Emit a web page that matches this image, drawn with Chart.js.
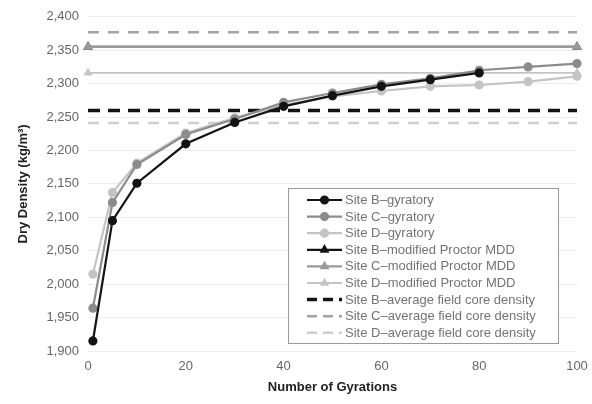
<!DOCTYPE html>
<html>
<head>
<meta charset="utf-8">
<script src="https://cdn.jsdelivr.net/npm/chart.js@4"></script>
<style>
  html, body { margin: 0; padding: 0; background: #fff; }
  #wrap { width: 592px; height: 404px; position: relative; }
</style>
</head>
<body>
<div id="wrap"><canvas id="densityChart"></canvas></div>
<script>
// gyratory compaction curves
const gyrations = [1, 5, 10, 20, 30, 40, 50, 60, 70, 80, 90, 100];
const siteB = [1915, 2095, 2151, 2210, 2242, 2266, 2282, 2296, 2306, 2316];
const siteC = [1964, 2122, 2179, 2224, 2247, 2272, 2286, 2299, 2308, 2320, 2325, 2330];
const siteD = [2015, 2137, 2181, 2226, 2249, 2268, 2281, 2289, 2296, 2298, 2303, 2311];

// reference densities, drawn across the whole x range
const refRange = [0, 100];
const mddB = 2355, mddC = 2355, mddD = 2316;
const fieldB = 2260, fieldC = 2377, fieldD = 2241;

const yTicks = { min: 1900, max: 2400, step: 50 };
const xTicks = { min: 0, max: 100, step: 20 };

const FONT = "'Liberation Sans', Arial, sans-serif";
const BLACK = '#141414', MID = '#8c8c8c', LIGHT = '#c4c4c4';

const curve = (vals) => vals.map((v, i) => ({ x: gyrations[i], y: v }));
const flat = (v) => refRange.map(x => ({ x: x, y: v }));

const datasets = [
    { label: 'Site B\u2013gyratory', data: curve(siteB), borderColor: BLACK, backgroundColor: BLACK,
      borderWidth: 2.2, pointRadius: 3.5, pointStyle: 'circle' },
    { label: 'Site C\u2013gyratory', data: curve(siteC), borderColor: MID, backgroundColor: MID,
      borderWidth: 2.2, pointRadius: 3.5, pointStyle: 'circle' },
    { label: 'Site D\u2013gyratory', data: curve(siteD), borderColor: LIGHT, backgroundColor: LIGHT,
      borderWidth: 2.2, pointRadius: 3.5, pointStyle: 'circle' },
    { label: 'Site B\u2013modified Proctor MDD', data: flat(mddB), borderColor: BLACK, backgroundColor: BLACK,
      borderWidth: 2.2, pointRadius: 3.5, pointStyle: 'triangle', order: 1 },
    { label: 'Site C\u2013modified Proctor MDD', data: flat(mddC), borderColor: '#9a9a9a', backgroundColor: '#9a9a9a',
      borderWidth: 2.2, pointRadius: 3.5, pointStyle: 'triangle' },
    { label: 'Site D\u2013modified Proctor MDD', data: flat(mddD), borderColor: LIGHT, backgroundColor: LIGHT,
      borderWidth: 1.8, pointRadius: 3.5, pointStyle: 'triangle' },
    { label: 'Site B\u2013average field core density', data: flat(fieldB), borderColor: BLACK,
      borderWidth: 3.5, borderDash: [12, 8], pointRadius: 0 },
    { label: 'Site C\u2013average field core density', data: flat(fieldC), borderColor: '#a3a3a3',
      borderWidth: 2.5, borderDash: [11, 9], pointRadius: 0 },
    { label: 'Site D\u2013average field core density', data: flat(fieldD), borderColor: '#cfcfcf',
      borderWidth: 2.5, borderDash: [11, 9], pointRadius: 0 }
];
datasets.forEach(ds => { ds.clip = false; ds.tension = 0; });

// boxed legend sitting inside the plot, bottom right
const boxLegend = {
    id: 'boxLegend',
    afterDraw(chart) {
        const ctx = chart.ctx;
        const box = { x: 288.5, y: 188.5, w: 270, h: 155 };
        const rowH = 16.6;
        ctx.save();
        ctx.fillStyle = '#fff';
        ctx.fillRect(box.x, box.y, box.w, box.h);
        ctx.strokeStyle = '#9a9a9a';
        ctx.lineWidth = 1;
        ctx.strokeRect(box.x, box.y, box.w, box.h);
        chart.data.datasets.forEach((ds, i) => {
            const y = 200 + i * rowH;
            const x0 = 307, x1 = 342;
            ctx.strokeStyle = ds.borderColor;
            ctx.lineWidth = ds.borderWidth;
            ctx.setLineDash(ds.borderDash ? [10, 6] : []);
            ctx.beginPath();
            ctx.moveTo(x0, y);
            ctx.lineTo(x1, y);
            ctx.stroke();
            ctx.setLineDash([]);
            if (ds.pointRadius) {
                ctx.fillStyle = ds.backgroundColor;
                ctx.strokeStyle = ds.borderColor;
                Chart.helpers.drawPoint(ctx, { pointStyle: ds.pointStyle, radius: 3.5, borderWidth: 1 },
                    (x0 + x1) / 2, y);
            }
            ctx.fillStyle = '#747474';
            ctx.font = '13px ' + FONT;
            ctx.textBaseline = 'middle';
            ctx.textAlign = 'left';
            ctx.fillText(ds.label, 345, y + 0.5);
        });
        ctx.restore();
    }
};

new Chart(document.getElementById('densityChart'), {
    type: 'line',
    data: { datasets: datasets },
    plugins: [boxLegend],
    options: {
        responsive: true,
        maintainAspectRatio: false,
        animation: false,
        layout: { padding: { left: 12, right: 15, top: 11, bottom: 5 } },
        plugins: { legend: { display: false }, tooltip: { enabled: false } },
        scales: {
            x: {
                type: 'linear',
                min: xTicks.min,
                max: xTicks.max,
                grid: { display: false },
                border: { display: false },
                ticks: { stepSize: xTicks.step, color: '#666', font: { family: FONT, size: 13 }, padding: 0 },
                title: { display: true, text: 'Number of Gyrations', color: '#222',
                         font: { family: FONT, size: 13, weight: 'bold' }, padding: { top: 8 } },
                afterFit(scale) { scale.height = 48; }
            },
            y: {
                min: yTicks.min,
                max: yTicks.max,
                grid: { color: '#ececec', drawTicks: false },
                border: { display: false },
                ticks: { stepSize: yTicks.step, color: '#666', font: { family: FONT, size: 13 }, padding: 9,
                         callback: v => v.toLocaleString('en-US') },
                title: { display: true, text: 'Dry Density (kg/m\u00b3)', color: '#222',
                         font: { family: FONT, size: 13, weight: 'bold' } },
                afterFit(scale) { scale.width = 76; }
            }
        }
    }
});
</script>
</body>
</html>
